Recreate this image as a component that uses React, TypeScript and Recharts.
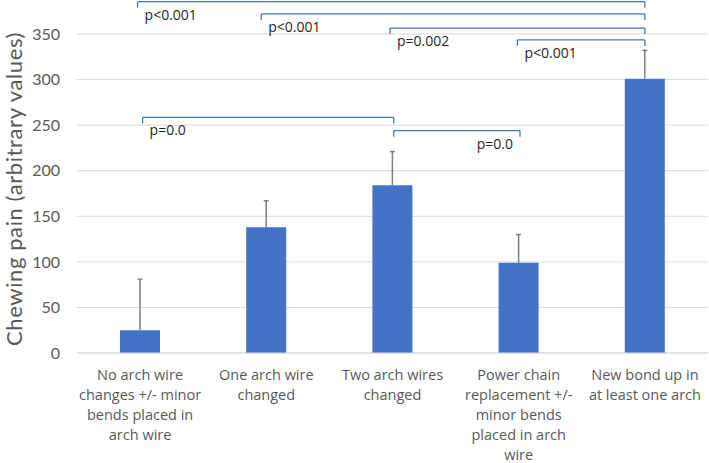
import { ComposedChart, Bar, XAxis, YAxis, CartesianGrid, ReferenceLine, Rectangle } from "recharts";

const categories = [
    "No arch wire changes",
    "One arch wire changed",
    "Two arch wires changed",
    "Power chain replacement",
    "New bond up",
];
const tickLines = [
    ["No arch wire", "changes +/- minor", "bends placed in", "arch wire"],
    ["One arch wire", "changed"],
    ["Two arch wires", "changed"],
    ["Power chain", "replacement +/-", "minor bends", "placed in arch", "wire"],
    ["New bond up in", "at least one arch"],
];
const painMeans = [25, 138, 184, 99, 301];
const errorTops = [81, 167, 221, 130, 332];
const yTicks = [0, 50, 100, 150, 200, 250, 300, 350];

// significance brackets, x in group index units, y in chart units
const bracketFrom = [-0.02, 0.96, 1.98, 2.99, 0.02, 2.01];
const bracketTo = [4, 4, 4, 4, 2.01, 3.01];
const bracketLevel = [385.5, 372, 356.5, 343.5, 258.5, 244];
const bracketLabels = ["p<0.001", "p<0.001", "p=0.002", "p<0.001", "p=0.0", "p=0.0"];
const labelSide = ["left", "left", "left", "left", "left", "right"];

const data = categories.map((name, i) => ({
    name,
    pos: i,
    pain: painMeans[i],
    err: errorTops[i],
}));

const BLUE = "#4472C4";
const GREY_TEXT = "#595959";
const TICK_DROP = 6.6;

const BarWithError = (props: any) => {
    const { x, y, width, height, payload } = props;
    const perUnit = height / payload.pain;
    const top = y - (payload.err - payload.pain) * perUnit;
    const cx = x + width / 2;
    return (
        <g>
            <Rectangle x={x} y={y} width={width} height={height} fill={BLUE} />
            <line x1={cx} x2={cx} y1={y} y2={top} stroke="#7f7f7f" strokeWidth={1.5} />
            <line x1={cx - 2.5} x2={cx + 2.5} y1={top} y2={top} stroke="#7f7f7f" strokeWidth={1.5} />
        </g>
    );
};

const CategoryTick = (props: any) => {
    const { x, y, payload } = props;
    const lines = tickLines[categories.indexOf(payload.value)] || [];
    return (
        <text x={x} y={y} textAnchor="middle" fill={GREY_TEXT} fontSize={14.5} fontFamily="'Open Sans', sans-serif">
            {lines.map((line, i) => (
                <tspan key={i} x={x} y={y + 26.5 + i * 20}>
                    {line}
                </tspan>
            ))}
        </text>
    );
};

const pLabel = (text: string, side: string) => (props: any) => {
    const vb = props.viewBox;
    const left = side === "left";
    return (
        <text
            x={left ? vb.x + 7 : vb.x + vb.width - 7}
            y={vb.y + 18}
            textAnchor={left ? "start" : "end"}
            fill="#262626"
            fontSize={14}
            fontFamily="'Open Sans', sans-serif"
        >
            {text}
        </text>
    );
};

const AxisTitle = () => (
    <text
        x={22}
        y={189}
        transform="rotate(-90, 22, 189)"
        textAnchor="middle"
        fill={GREY_TEXT}
        fontSize={22}
        letterSpacing={0.6}
        fontFamily="Lato, sans-serif"
    >
        Chewing pain (arbitrary values)
    </text>
);

export default function App() {
    return (
        <div style={{ position: "absolute", left: 0, top: 0, width: 709, height: 463, background: "#fff" }}>
            <ComposedChart width={709} height={463} data={data} margin={{ top: 34, right: 1, bottom: 0, left: 0 }}>
                <CartesianGrid vertical={false} stroke="#d9d9d9" />
                <XAxis
                    dataKey="name"
                    height={110}
                    tickSize={0}
                    tickMargin={0}
                    tickLine={false}
                    axisLine={{ stroke: "#d9d9d9" }}
                    interval={0}
                    tick={<CategoryTick />}
                />
                <XAxis xAxisId="num" dataKey="pos" type="number" domain={[-0.5, 4.5]} hide allowDataOverflow />
                <YAxis
                    width={77}
                    domain={[0, 350]}
                    ticks={yTicks}
                    tickSize={0}
                    tickMargin={17}
                    tickLine={false}
                    axisLine={false}
                    tick={{ fill: GREY_TEXT, fontSize: 16, fontFamily: "Lato, sans-serif" }}
                    label={{ content: <AxisTitle /> }}
                />
                <Bar dataKey="pain" barSize={40} fill={BLUE} shape={<BarWithError />} isAnimationActive={false} />
                {bracketLabels.map((text, i) => (
                    <ReferenceLine
                        key={`h${i}`}
                        xAxisId="num"
                        ifOverflow="visible"
                        stroke={BLUE}
                        strokeWidth={1.3}
                        segment={[
                            { x: bracketFrom[i], y: bracketLevel[i] },
                            { x: bracketTo[i], y: bracketLevel[i] },
                        ]}
                        label={pLabel(text, labelSide[i])}
                    />
                ))}
                {bracketLabels.map((_, i) =>
                    [bracketFrom[i], bracketTo[i]].map((bx, j) => (
                        <ReferenceLine
                            key={`v${i}-${j}`}
                            xAxisId="num"
                            ifOverflow="visible"
                            stroke={BLUE}
                            strokeWidth={1.3}
                            segment={[
                                { x: bx, y: bracketLevel[i] },
                                { x: bx, y: bracketLevel[i] - TICK_DROP },
                            ]}
                        />
                    ))
                )}
            </ComposedChart>
        </div>
    );
}
